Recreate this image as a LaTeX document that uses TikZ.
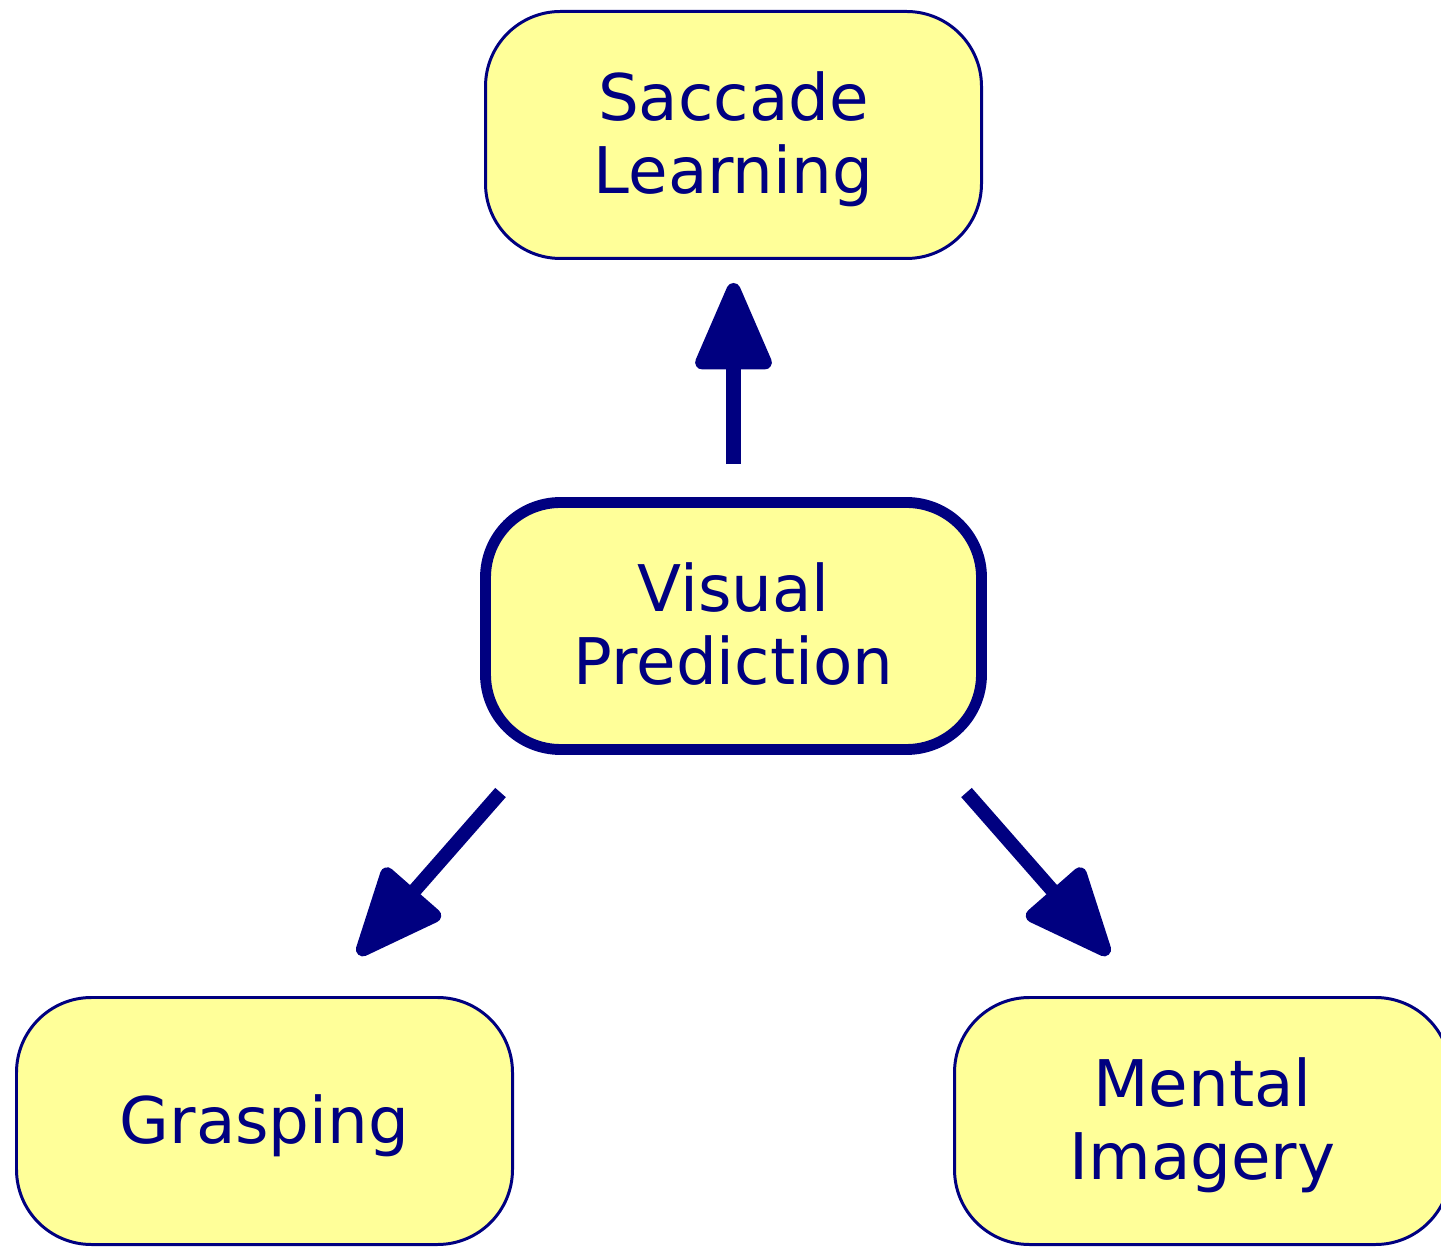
\documentclass[tikz,border=0pt]{standalone}
\usepackage{fontspec}
\setmainfont{DejaVu Sans}
\usetikzlibrary{arrows.meta}
\definecolor{boxnavy}{HTML}{000080}
\definecolor{boxyellow}{HTML}{FFFF99}

\begin{document}
\begin{tikzpicture}[
  stage/.style={draw=boxnavy, fill=boxyellow, line width=0.85pt, rounded corners=0.75cm,
    minimum width=4.96cm, minimum height=2.47cm, inner sep=0pt, align=center,
    text=boxnavy, font=\fontsize{18.3}{20.7}\selectfont,
    text height=17pt, text depth=4.4pt},
  twoline/.style={text height=37.7pt},
  link/.style={draw=boxnavy, line width=4pt, -{Triangle[length=0.98cm, width=0.8cm, round]}}
]
  \useasboundingbox (0,0) rectangle (14.41,12.47);

  \node[stage, twoline] (saccade) at (7.335, 11.12) {Saccade\\Learning};
  \node[stage, twoline, line width=3.1pt] (visual) at (7.335, 6.21) {Visual\\Prediction};
  \node[stage] (grasp) at (2.645, 1.26) {Grasping};
  \node[stage, twoline] (mental) at (12.025, 1.26) {Mental\\Imagery};

  \draw[link, shorten <=0.33cm, shorten >=0.23cm] (visual.north) -- (saccade.south);
  \draw[link, shorten <=0.5cm, shorten >=0.55cm] ([xshift=-2cm]visual.south) -- ([xshift=0.575cm]grasp.north);
  \draw[link, shorten <=0.5cm, shorten >=0.55cm] ([xshift=2cm]visual.south) -- ([xshift=-0.575cm]mental.north);
\end{tikzpicture}
\end{document}
